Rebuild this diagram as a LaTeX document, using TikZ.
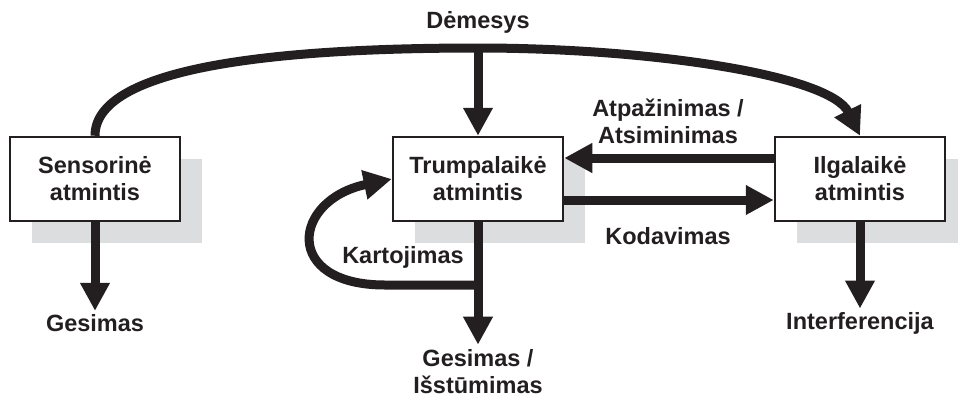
\documentclass[tikz,border=0pt]{standalone}
\usepackage{fontspec}
\setmainfont{Liberation Sans}
\usetikzlibrary{arrows.meta,shadows}
\definecolor{ink}{RGB}{35,31,32}
\definecolor{shadowgray}{RGB}{220,221,223}

\begin{document}
\begin{tikzpicture}[x=1pt,y=-1pt,
    every node/.style={font=\bfseries\fontsize{23.5}{27}\selectfont, text=ink, align=center},
    box/.style={draw=ink, line width=2.5pt, fill=white, minimum width=170pt, minimum height=84pt,
      drop shadow={shadow xshift=22pt, shadow yshift=-22pt, fill=shadowgray, opacity=1}},
    flow/.style={draw=ink, line width=9pt, -{Triangle[length=28pt,width=28pt]}}]
    \useasboundingbox (0,0) rectangle (958,400);
    \foreach \name/\x/\txt in {sens/95/Sensorinė, trum/478/Trumpalaikė, ilg/860/Ilgalaikė} {
      \node[box] (\name) at (\x,179) {\txt\\atmintis};
    }
    \node (dem) at (478,22) {Dėmesys};
    \node (gesl) at (95,323) {Gesimas};
    \node[inner sep=1pt] (gesm) at (478,372) {Gesimas /\\Išstūmimas};
    \node (intf) at (860,323) {Interferencija};
    \node (atp) at (668,121) {Atpažinimas /\\Atsiminimas};
    \node (kod) at (668,236) {Kodavimas};
    \node (kart) at (403,257) {Kartojimas};
    \coordinate (dtop) at (478,48);
    \coordinate (kj) at (478,285);
    \draw[flow] (sens.north) .. controls (95,70) and (260,48) .. (dtop)
      .. controls (650,48) and (830,75) .. (ilg.north);
    \draw[flow] (dtop) -- (trum);
    \draw[flow] ([yshift=21pt]ilg.west) -- ([yshift=21pt]trum.east);
    \draw[flow] ([yshift=-21pt]trum.east) -- ([yshift=-21pt]ilg.west);
    \draw[flow] (sens) -- (gesl);
    \draw[flow, shorten >=4pt] (trum) -- (gesm);
    \draw[flow] (ilg) -- (intf);
    \draw[flow] (kj) -- (385,285) .. controls (282,285) and (292,200) .. (trum.west);
\end{tikzpicture}
\end{document}
